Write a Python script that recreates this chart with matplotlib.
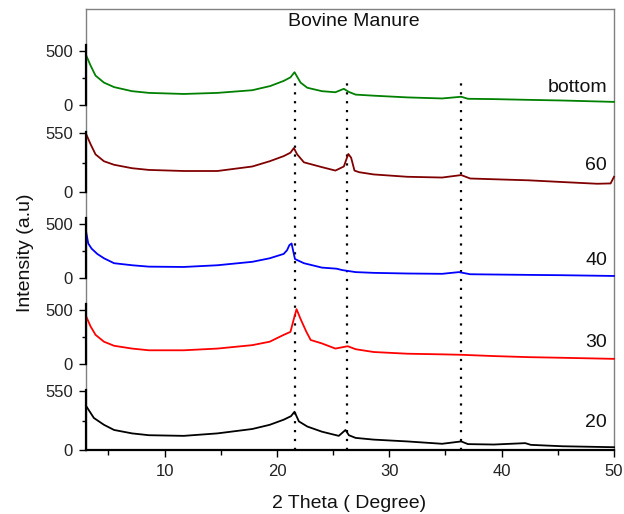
import matplotlib
matplotlib.use("Agg")
import matplotlib.pyplot as plt

plt.rcParams['font.family'] = ['Liberation Sans', 'DejaVu Sans']

# ---------------- data ----------------
title = "Bovine Manure"
x_label = "2 Theta ( Degree)"
y_label = "Intensity (a.u)"

sample_labels = ["bottom", "60", "40", "30", "20"]
sample_colors = ["#008000", "#800000", "#0000FF", "#FF0000", "#000000"]
y_top_ticks = [500, 550, 500, 500, 550]

x_bottom = [3.0, 3.4, 3.85, 4.6, 5.5, 7.1, 8.6, 11.7, 14.7, 17.8, 19.4, 20.6, 21.2, 21.56,
            22.1, 22.7, 24.0, 25.2, 25.95, 26.4, 27.0, 28.6, 31.6, 34.7, 36.4, 37.0, 39.3,
            42.4, 45.4, 50.0]
y_bottom = [467, 370, 274, 209, 167, 129, 113, 103, 113, 138, 177, 225, 258, 306,
            209, 161, 129, 119, 151, 122, 97, 87, 71, 61, 77, 58, 55,
            48, 42, 29]

x_60 = [3.0, 3.4, 3.85, 4.6, 5.5, 7.1, 8.6, 11.7, 14.7, 17.8, 19.35, 20.6, 21.2, 21.5,
        21.8, 22.4, 24.0, 25.2, 25.95, 26.35, 26.6, 26.9, 27.3, 28.6, 31.6, 34.7, 36.4,
        37.2, 39.3, 42.4, 45.4, 48.5, 49.7, 50.0]
y_60 = [544, 448, 351, 287, 254, 222, 206, 196, 196, 238, 287, 335, 367, 410,
        351, 277, 232, 200, 238, 355, 320, 200, 185, 164, 142, 135, 158,
        126, 119, 109, 93, 77, 80, 142]

x_40 = [3.0, 3.2, 3.5, 4.0, 4.6, 5.5, 7.1, 8.6, 11.7, 14.7, 17.8, 19.35, 20.6, 20.9,
        21.1, 21.3, 21.6, 22.4, 24.0, 25.3, 25.8, 27.0, 28.6, 31.6, 34.7, 36.2, 37.2,
        42.4, 45.4, 50.0]
y_40 = [437, 322, 274, 225, 184, 138, 119, 106, 103, 119, 151, 184, 225, 260,
        306, 322, 177, 138, 97, 87, 74, 55, 48, 42, 39, 55, 35,
        29, 26, 19]

x_30 = [3.0, 3.4, 3.85, 4.6, 5.5, 7.1, 8.6, 11.7, 14.7, 17.8, 19.35, 20.6, 21.2, 21.5,
        21.74, 22.1, 22.6, 23.0, 24.0, 25.2, 26.3, 27.0, 28.6, 31.6, 34.7, 36.4, 39.3,
        42.4, 45.4, 50.0]
y_30 = [448, 352, 272, 208, 170, 144, 128, 128, 144, 176, 208, 272, 300, 420,
        512, 420, 304, 224, 192, 144, 166, 138, 112, 96, 90, 86, 74,
        64, 58, 48]

x_20 = [3.0, 3.2, 3.7, 4.6, 5.5, 7.1, 8.6, 11.7, 14.7, 17.8, 19.35, 20.6, 21.25, 21.56,
        21.95, 22.7, 24.0, 25.5, 26.1, 26.4, 27.0, 28.6, 31.6, 34.7, 36.4, 37.0, 39.3,
        42.1, 42.6, 45.4, 50.0]
y_20 = [412, 380, 299, 235, 187, 155, 138, 132, 155, 196, 235, 283, 316, 357,
        267, 219, 171, 132, 187, 138, 113, 97, 80, 58, 80, 55, 51,
        64, 48, 35, 26]

series_x = [x_bottom, x_60, x_40, x_30, x_20]
series_y = [y_bottom, y_60, y_40, y_30, y_20]

dotted_x = [21.6, 26.25, 36.4]
x_major = [10, 20, 30, 40, 50]
x_minor = [5, 15, 25, 35, 45]

# ---------------- layout ----------------
W, H = 624, 514
fig = plt.figure(figsize=(W / 100, H / 100), dpi=100)

def fx(px):
    return px / W

def fy(py):
    return 1 - py / H

L_PX, R_PX, T_PX, B_PX = 86, 614, 9, 450
frame = fig.add_axes([fx(L_PX), fy(B_PX), (R_PX - L_PX) / W, (B_PX - T_PX) / H])
frame.set_xlim(3, 50)
frame.set_ylim(0, B_PX - T_PX)
for s in ['top', 'right', 'left']:
    frame.spines[s].set_color('#808080')
    frame.spines[s].set_linewidth(1.0)
frame.spines['bottom'].set_color('black')
frame.spines['bottom'].set_linewidth(1.6)
frame.set_xticks(x_major)
frame.set_xticks(x_minor, minor=True)
frame.set_yticks([])
frame.tick_params(axis='x', which='major', direction='out', length=5.3, width=1.0,
                  labelsize=12, pad=5, labelcolor='#222222')
frame.tick_params(axis='x', which='minor', direction='out', length=3.5, width=1.0)

for xv in dotted_x:
    frame.plot([xv, xv], [0, B_PX - 82], color='black', lw=1.6,
               linestyle=(0, (1, 3)), zorder=1)

zeros_px = [105, 192, 278, 364, 450]
layer_h = 60
label_baselines = [92, 170, 265, 347, 427]

for i in range(5):
    ax = fig.add_axes([fx(L_PX), fy(zeros_px[i]), (R_PX - L_PX) / W, layer_h / H])
    ax.set_facecolor('none')
    ax.set_xlim(3, 50)
    ax.set_ylim(0, 560)
    for s in ['top', 'right', 'bottom']:
        ax.spines[s].set_visible(False)
    ax.spines['left'].set_color('black')
    ax.spines['left'].set_linewidth(1.6)
    ax.set_xticks([])
    ax.set_yticks([0, y_top_ticks[i]])
    ax.set_yticks([y_top_ticks[i] / 2], minor=True)
    ax.tick_params(axis='y', which='major', direction='out', length=5.3, width=1.0,
                   labelsize=12, pad=4, labelcolor='#222222')
    ax.tick_params(axis='y', which='minor', direction='out', length=3, width=1.0)
    ax.plot(series_x[i], series_y[i], color=sample_colors[i], lw=1.3, clip_on=False)
    fig.text(fx(607), fy(label_baselines[i]), sample_labels[i], ha='right',
             va='baseline', fontsize=14, color='#111111')

fig.text(fx(353.5), fy(26), title, ha='center', va='baseline', fontsize=14, color='#111111')
fig.text(fx(349), fy(508), x_label, ha='center', va='baseline', fontsize=14, color='#111111')
fig.text(fx(29.5), fy(253), y_label, rotation=90, rotation_mode='anchor',
         ha='center', va='baseline', fontsize=14, color='#111111')

fig.savefig("out.png", dpi=100)
